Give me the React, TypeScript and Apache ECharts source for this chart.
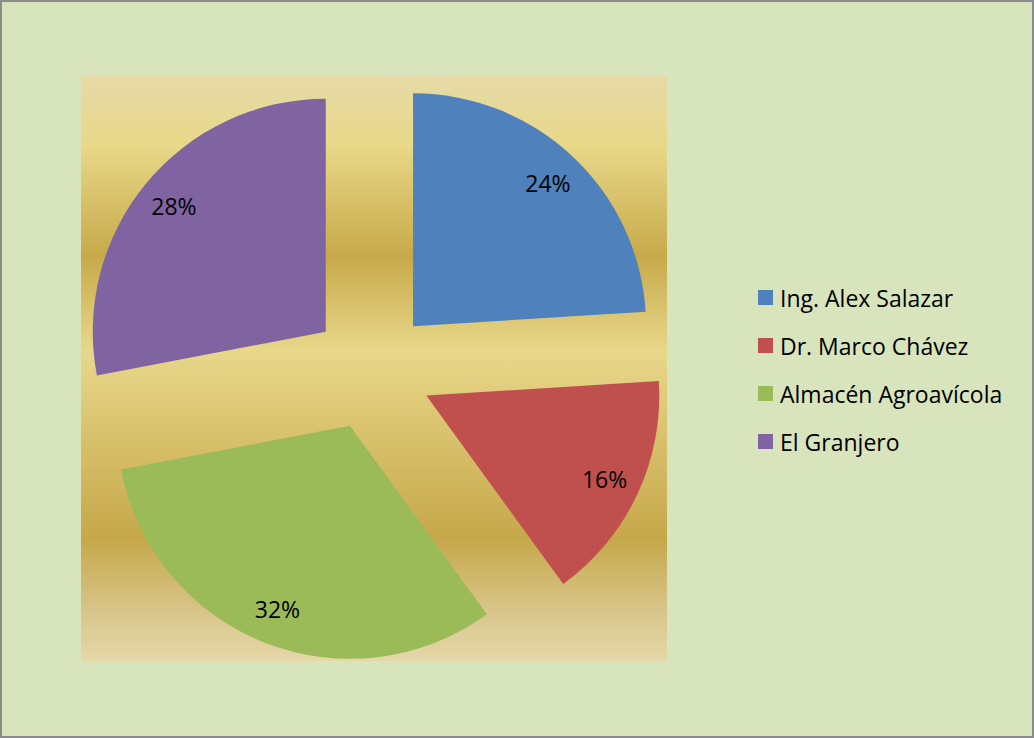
import React, { useEffect, useRef } from "react";
import * as echarts from "echarts";

const categories = ["Ing. Alex Salazar", "Dr. Marco Chávez", "Almacén Agroavícola", "El Granjero"];
const values = [24, 16, 32, 28];
const colors = ["#4F81BD", "#C0504D", "#9BBB59", "#8064A2"];

export default function App() {
  const ref = useRef<HTMLDivElement>(null);
  useEffect(() => {
    if (!ref.current) return;
    const chart = echarts.init(ref.current, undefined, { renderer: "svg" });
    const font = "'Open Sans', Lato, sans-serif";
    const mainData = categories.map((name, i) => ({
      name,
      value: values[i],
      selected: true,
      itemStyle: { color: colors[i] },
    }));
    const labelData = categories.map((name, i) => ({
      name,
      value: values[i],
      selected: true,
      itemStyle: { color: "rgba(0,0,0,0)" },
    }));
    chart.setOption({
      animation: false,
      backgroundColor: "#D8E4BC",
      graphic: [
        {
          type: "rect",
          z: -10,
          shape: { x: 1, y: 1, width: 1032, height: 736 },
          style: { fill: "#D8E4BC", stroke: "#8C8C8C", lineWidth: 2 },
        },
        {
          type: "rect",
          z: -5,
          shape: { x: 81, y: 75, width: 586, height: 586 },
          style: {
            fill: new echarts.graphic.LinearGradient(0, 0, 0, 1, [
              { offset: 0, color: "#E6DAA8" },
              { offset: 0.12, color: "#E8D888" },
              { offset: 0.31, color: "#C7A94A" },
              { offset: 0.47, color: "#E8D78A" },
              { offset: 0.79, color: "#C6A84A" },
              { offset: 0.92, color: "#D8C68C" },
              { offset: 1, color: "#E5D8A8" },
            ]),
          },
        },
      ],
      legend: {
        orient: "vertical",
        left: 758,
        top: 286,
        padding: 0,
        itemWidth: 15,
        itemHeight: 15,
        itemGap: 25,
        icon: "rect",
        selectedMode: false,
        textStyle: { fontFamily: font, fontSize: 23, color: "#000", lineHeight: 23, padding: [0, 0, 0, 2] },
        data: categories.map((name, i) => ({ name, itemStyle: { color: colors[i] } })),
      },
      series: [
        {
          type: "pie",
          center: [372, 370],
          radius: [0, 233],
          startAngle: 90,
          clockwise: true,
          selectedMode: "multiple",
          selectedOffset: 60,
          silent: true,
          label: { show: false },
          labelLine: { show: false },
          emphasis: { disabled: true },
          itemStyle: { borderWidth: 0 },
          data: mainData,
        },
        {
          type: "pie",
          center: [372, 370],
          radius: [155, 233],
          startAngle: 90,
          clockwise: true,
          selectedMode: "multiple",
          selectedOffset: 60,
          silent: true,
          label: {
            show: true,
            position: "inside",
            formatter: "{d}%",
            color: "#000",
            fontFamily: font,
            fontSize: 23,
          },
          labelLine: { show: false },
          emphasis: { disabled: true },
          itemStyle: { borderWidth: 0 },
          data: labelData,
        },
      ],
    });
    return () => chart.dispose();
  }, []);
  return <div ref={ref} style={{ position: "fixed", left: 0, top: 0, width: 1034, height: 738 }} />;
}
